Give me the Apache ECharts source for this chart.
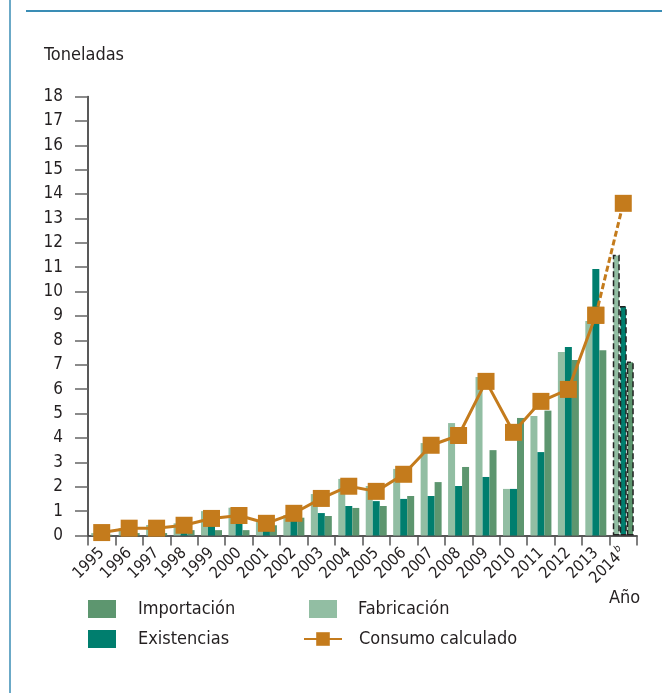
<!DOCTYPE html>
<html>
<head>
<meta charset="utf-8">
<script src="https://cdn.jsdelivr.net/npm/echarts@6/dist/echarts.min.js"></script>
<style>
  html, body { margin: 0; padding: 0; background: #fff; }
  #chart { width: 662px; height: 693px; }
</style>
</head>
<body>
<div id="chart"></div>
<script>
var years = ['1995', '1996', '1997', '1998', '1999', '2000', '2001', '2002', '2003', '2004',
  '2005', '2006', '2007', '2008', '2009', '2010', '2011', '2012', '2013', '2014'];
var fabricacion = [0.1, 0.3, 0.43, 0.5, 1.0, 1.14, 0.55, 0.84, 1.7, 2.32,
  2.03, 2.73, 3.79, 4.61, 6.5, 1.91, 4.9, 7.52, 8.79, 11.51];
var existencias = [0, 0.05, 0.05, 0.1, 0.4, 0.5, 0.2, 0.6, 0.92, 1.21,
  1.41, 1.5, 1.62, 2.03, 2.4, 1.91, 3.42, 7.73, 10.93, 9.41];
var importacion = [0.03, 0.1, 0.1, 0.22, 0.22, 0.22, 0.42, 0.73, 0.8, 1.13,
  1.21, 1.62, 2.19, 2.81, 3.5, 4.82, 5.12, 7.2, 7.6, 7.13];
var consumo = [0.12, 0.3, 0.3, 0.42, 0.7, 0.82, 0.5, 0.91, 1.52, 2.02,
  1.81, 2.51, 3.7, 4.1, 6.32, 4.23, 5.5, 5.99, 9.03, 13.62];

var FONT = "'DejaVu Sans Condensed', 'Liberation Sans', sans-serif";
var TXT = '#231f20';
var ORANGE = '#c47b1c';
var last = years.length - 1;

// el último año (estimación) va con borde discontinuo
function barData(arr) {
  return arr.map(function (v, i) {
    if (i === last) {
      return { value: v, itemStyle: { borderType: 'dashed', borderColor: '#222', borderWidth: 1.5 } };
    }
    return v;
  });
}

var consumoSolid = consumo.map(function (v, i) { return i === last ? '-' : v; });
var consumoDash = consumo.map(function (v, i) { return i >= last - 1 ? v : '-'; });

var chart = echarts.init(document.getElementById('chart'));

chart.setOption({
  animation: false,
  textStyle: { fontFamily: FONT, color: TXT },
  title: [
    { text: 'Toneladas', left: 44, top: 46, padding: 0, textStyle: { fontFamily: FONT, fontSize: 18, fontWeight: 'normal', color: TXT } },
    { text: 'Año', left: 609, top: 589, padding: 0, textStyle: { fontFamily: FONT, fontSize: 18, fontWeight: 'normal', color: TXT } }
  ],
  graphic: [
    { type: 'line', shape: { x1: 10, y1: 0, x2: 10, y2: 693 }, style: { stroke: '#3a8db5', lineWidth: 1.5 } },
    { type: 'line', shape: { x1: 26, y1: 11, x2: 662, y2: 11 }, style: { stroke: '#3a8db5', lineWidth: 2 } }
  ],
  legend: [
    {
      orient: 'vertical', left: 88, top: 600, padding: 0, itemWidth: 28, itemHeight: 18, itemGap: 12,
      icon: 'rect',
      data: ['Importación', 'Existencias'],
      textStyle: { fontFamily: FONT, fontSize: 18, color: TXT, padding: [0, 0, 0, 17] }
    },
    {
      left: 309, top: 600, padding: 0, itemWidth: 28, itemHeight: 18,
      icon: 'rect',
      data: ['Fabricación'],
      textStyle: { fontFamily: FONT, fontSize: 18, color: TXT, padding: [0, 0, 0, 16] }
    },
    {
      left: 303, top: 630, padding: 0, itemWidth: 38, itemHeight: 17,
      data: ['Consumo calculado'],
      textStyle: { fontFamily: FONT, fontSize: 18, color: TXT, padding: [0, 0, 0, 12] }
    }
  ],
  grid: { left: 88, right: 25, top: 96.5, bottom: 157.5 },
  xAxis: {
    type: 'category',
    data: years,
    axisLine: { lineStyle: { color: '#222', width: 1.5 } },
    axisTick: { show: true, length: 10, lineStyle: { color: '#555', width: 1.5 } },
    axisLabel: {
      rotate: 45, margin: 15, fontFamily: FONT, fontSize: 16, color: TXT, interval: 0,
      formatter: function (v) { return v === years[last] ? v + '{sup|b}' : v; },
      rich: { sup: { fontSize: 10, fontStyle: 'italic', fontFamily: FONT, color: TXT, padding: [0, 0, 10, 1] } }
    }
  },
  yAxis: {
    type: 'value',
    min: 0, max: 18, interval: 1,
    axisLine: { show: true, lineStyle: { color: '#222', width: 1.5 } },
    axisTick: { show: true, length: 13, lineStyle: { color: '#666', width: 1.5 } },
    axisLabel: { margin: 25, fontFamily: FONT, fontSize: 17, color: TXT },
    splitLine: { show: false }
  },
  series: [
    {
      name: 'Fabricación', type: 'bar', barWidth: 7, barGap: '0%',
      itemStyle: { color: '#92bea3' },
      data: barData(fabricacion)
    },
    {
      name: 'Existencias', type: 'bar', barWidth: 7, barGap: '0%',
      itemStyle: { color: '#007e6e' },
      data: barData(existencias)
    },
    {
      name: 'Importación', type: 'bar', barWidth: 7, barGap: '0%',
      itemStyle: { color: '#5d966f' },
      data: barData(importacion)
    },
    {
      name: 'Consumo calculado', type: 'line', z: 5,
      symbol: 'rect', symbolSize: 17,
      lineStyle: { color: ORANGE, width: 3 },
      itemStyle: { color: ORANGE },
      data: consumoSolid
    },
    {
      name: 'Consumo estimado', type: 'line', z: 4,
      symbol: 'rect', symbolSize: 17,
      lineStyle: { color: ORANGE, width: 3, type: [6, 3] },
      itemStyle: { color: ORANGE },
      data: consumoDash
    }
  ]
});
</script>
</body>
</html>
